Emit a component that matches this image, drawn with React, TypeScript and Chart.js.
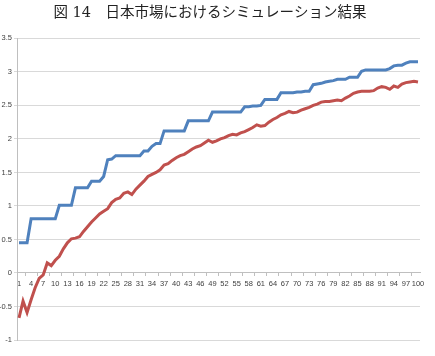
import React, { useEffect, useRef } from "react";
import { Chart, registerables } from "chart.js";

Chart.register(...registerables);

const TITLE = "図 14　日本市場におけるシミュレーション結果";

const categories: string[] = Array.from({ length: 100 }, (_, i) => String(i + 1));

const blueSeries: number[] = [
  0.45, 0.45, 0.45,
  0.81, 0.81, 0.81, 0.81, 0.81, 0.81, 0.81,
  1.01, 1.01, 1.01, 1.01,
  1.27, 1.27, 1.27, 1.27,
  1.37, 1.37, 1.37,
  1.44, 1.69, 1.70,
  1.75, 1.75, 1.75, 1.75, 1.75, 1.75, 1.75,
  1.82, 1.82, 1.89, 1.93, 1.93,
  2.12, 2.12, 2.12, 2.12, 2.12, 2.12,
  2.27, 2.27, 2.27, 2.27, 2.27, 2.27,
  2.40, 2.40, 2.40, 2.40, 2.40, 2.40, 2.40, 2.40,
  2.48, 2.48, 2.49, 2.49, 2.50,
  2.59, 2.59, 2.59, 2.59,
  2.69, 2.69, 2.69, 2.69, 2.70, 2.70, 2.71,
  2.71,
  2.81, 2.82, 2.83,
  2.85, 2.86, 2.87,
  2.89, 2.89, 2.89,
  2.92, 2.92, 2.92,
  3.01,
  3.03, 3.03, 3.03, 3.03, 3.03, 3.03,
  3.05,
  3.09, 3.10, 3.10,
  3.13,
  3.15, 3.15, 3.15,
];

const redSeries: number[] = [
  -0.67, -0.42, -0.59, -0.40, -0.22, -0.08, -0.03, 0.15, 0.11, 0.19,
  0.25, 0.36, 0.45, 0.51, 0.52, 0.54, 0.62, 0.69, 0.76, 0.82,
  0.88, 0.92, 0.96, 1.05, 1.10, 1.12, 1.19, 1.21, 1.17, 1.25,
  1.31, 1.37, 1.44, 1.47, 1.50, 1.54, 1.61, 1.63, 1.68, 1.72,
  1.75, 1.77, 1.81, 1.85, 1.88, 1.90, 1.94, 1.98, 1.95, 1.97,
  2.00, 2.02, 2.05, 2.07, 2.06, 2.09, 2.11, 2.14, 2.17, 2.21,
  2.19, 2.20, 2.25, 2.29, 2.32, 2.36, 2.38, 2.41, 2.39, 2.40,
  2.43, 2.45, 2.47, 2.50, 2.52, 2.55, 2.56, 2.56, 2.57, 2.58,
  2.57, 2.61, 2.64, 2.68, 2.70, 2.71, 2.71, 2.71, 2.72, 2.76,
  2.78, 2.77, 2.74, 2.79, 2.77, 2.82, 2.84, 2.85, 2.86, 2.85,
];

const Y_MIN = -1;
const Y_MAX = 3.5;
const Y_STEP = 0.5;

const tickFont = { family: "'Liberation Sans', 'DejaVu Sans', sans-serif", size: 7.5 };

export default function App() {
  const ref = useRef<HTMLCanvasElement | null>(null);

  useEffect(() => {
    if (!ref.current) return;
    const chart = new Chart(ref.current, {
      type: "line",
      data: {
        labels: categories,
        datasets: [
          {
            data: blueSeries,
            borderColor: "#4F81BD",
            backgroundColor: "#4F81BD",
            borderWidth: 3,
            pointRadius: 0,
            tension: 0,
          },
          {
            data: redSeries,
            borderColor: "#C0504D",
            backgroundColor: "#C0504D",
            borderWidth: 3,
            pointRadius: 0,
            tension: 0,
          },
        ],
      },
      options: {
        animation: false,
        responsive: true,
        maintainAspectRatio: false,
        layout: { padding: { top: 0, right: 15, bottom: 16, left: 0 } },
        plugins: {
          legend: { display: false },
          tooltip: { enabled: false },
          title: {
            display: true,
            text: TITLE,
            color: "#222",
            font: { family: "'DejaVu Serif', 'Noto Sans CJK JP', serif", size: 14.5, weight: "normal" },
            padding: { top: 5, bottom: 16 },
          },
        },
        scales: {
          x: {
            type: "category",
            position: { y: 0 } as any,
            offset: true,
            grid: {
              display: true,
              drawOnChartArea: false,
              drawTicks: true,
              tickLength: 3,
              color: "#bfbfbf",
              offset: true,
            },
            border: { display: true, color: "#bfbfbf" },
            ticks: {
              autoSkip: false,
              maxRotation: 0,
              minRotation: 0,
              padding: 3,
              color: "#404040",
              font: tickFont,
              callback: (_v: any, i: number) => (i % 3 === 0 ? categories[i] : null),
            },
          },
          y: {
            min: Y_MIN,
            max: Y_MAX,
            afterFit: (s: any) => {
              s.width = 17;
            },
            grid: {
              color: "#d9d9d9",
              drawTicks: true,
              tickLength: 3,
            },
            border: { display: true, color: "#bfbfbf" },
            ticks: {
              stepSize: Y_STEP,
              padding: 2,
              color: "#404040",
              font: tickFont,
              callback: (v: any) => String(Number(v)),
            },
          },
        },
      },
    });
    return () => chart.destroy();
  }, []);

  return (
    <div style={{ position: "fixed", left: 0, top: 0, width: 435, height: 356, background: "#fff" }}>
      <canvas ref={ref} />
    </div>
  );
}
